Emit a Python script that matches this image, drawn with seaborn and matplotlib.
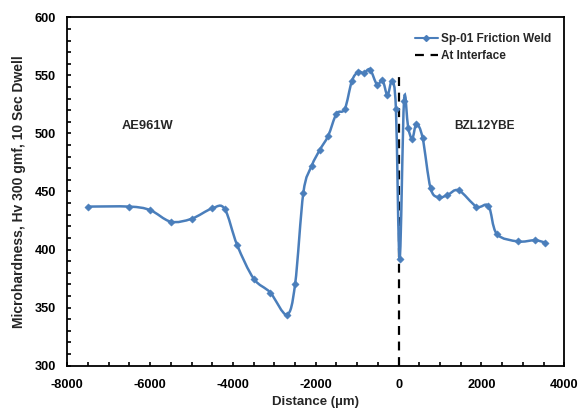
import numpy as np
import seaborn as sns
import matplotlib
matplotlib.use("Agg")
import matplotlib.pyplot as plt
from matplotlib.path import Path
from matplotlib.patches import PathPatch
from matplotlib.lines import Line2D
from matplotlib.ticker import MultipleLocator

# measured hardness profile across the weld
distance = [-7500, -6500, -6000, -5500, -5000, -4500, -4200, -3900, -3500, -3100,
            -2700, -2500, -2300, -2100, -1900, -1700, -1500, -1300, -1130, -980,
            -840, -690, -520, -390, -270, -160, -65, 25, 130, 230,
            330, 430, 580, 770, 970, 1180, 1450, 1880, 2170, 2370,
            2880, 3290, 3540]
hardness = [437, 437, 434, 424, 426.5, 435.5, 435, 404, 375, 363,
            344, 370, 449, 472, 486, 498, 517, 521, 545, 553,
            552, 555, 542, 546, 533, 545, 521, 392, 528, 505,
            495.5, 508, 496, 453, 445, 447, 451, 437, 437.5, 413.5,
            407, 408, 406]
interface_x = [0, 0]
interface_y = [300, 550]

series_label = "Sp-01 Friction Weld"
interface_label = "At Interface"
left_material = "AE961W"
right_material = "BZL12YBE"

BLUE = "#4A7EBB"

sns.set_theme(style="ticks")
plt.rcParams["font.family"] = ["Liberation Sans", "DejaVu Sans"]
plt.rcParams["font.weight"] = "bold"
plt.rcParams["axes.unicode_minus"] = False

fig = plt.figure(figsize=(5.79, 4.12), dpi=100)
ax = fig.add_axes([0.1162, 0.1124, 0.8584, 0.8456])


def smooth_path(xs, ys):
    # excel-style smoothed line: bezier segments through every point
    pts = np.column_stack([xs, ys]).astype(float)
    n = len(pts)
    verts = [pts[0]]
    codes = [Path.MOVETO]
    for i in range(n - 1):
        p0 = pts[i - 1] if i > 0 else pts[i]
        p1 = pts[i]
        p2 = pts[i + 1]
        p3 = pts[i + 2] if i + 2 < n else pts[i + 1]
        c1 = p1 + (p2 - p0) / 6.0
        c2 = p2 - (p3 - p1) / 6.0
        verts += [c1, c2, p2]
        codes += [Path.CURVE4] * 3
    return Path(verts, codes)


ax.add_patch(PathPatch(smooth_path(distance, hardness), facecolor="none",
                       edgecolor=BLUE, lw=1.8, zorder=3))
sns.scatterplot(x=distance, y=hardness, ax=ax, marker="D", s=14,
                color=BLUE, edgecolor=BLUE, zorder=4, legend=False)
ax.plot(interface_x, interface_y, color="black", lw=1.6,
        linestyle=(0, (4, 3)), zorder=2)

ax.set_xlim(-8000, 4000)
ax.set_ylim(300, 600)
ax.xaxis.set_major_locator(MultipleLocator(2000))
ax.xaxis.set_minor_locator(MultipleLocator(500))
ax.yaxis.set_major_locator(MultipleLocator(50))
ax.yaxis.set_minor_locator(MultipleLocator(10))
ax.tick_params(which="both", direction="in", length=3, width=1.2,
               colors="black", labelsize=9.2)
ax.tick_params(axis="x", which="both", pad=9.5)
ax.tick_params(axis="y", which="both", pad=8)
for lab in ax.get_xticklabels() + ax.get_yticklabels():
    lab.set_fontweight("bold")
for sp in ax.spines.values():
    sp.set_visible(True)
    sp.set_linewidth(1.3)
    sp.set_color("black")

ax.set_xlabel("Distance (\u00b5m)", fontsize=9.5, fontweight="bold", labelpad=4)
ax.set_ylabel("Microhardness, Hv 300 gmf, 10 Sec Dwell", fontsize=10,
              fontweight="bold", labelpad=6)

ax.text(-6070, 506.5, left_material, fontsize=9.3, fontweight="bold",
        ha="center", va="center")
ax.text(2065, 506, right_material, fontsize=8.6, fontweight="bold",
        ha="center", va="center")

handles = [
    Line2D([], [], color=BLUE, lw=1.5, marker="D", markersize=3),
    Line2D([], [], color="black", lw=1.6, linestyle=(0, (4, 3))),
]
ax.legend(handles, [series_label, interface_label], loc="upper left",
          bbox_to_anchor=(0.699, 0.954), frameon=False,
          handlelength=2.0, handletextpad=0.2, labelspacing=0.38,
          borderpad=0, borderaxespad=0,
          prop={"weight": "bold", "size": 8.5})

fig.savefig("out.png", dpi=100)
